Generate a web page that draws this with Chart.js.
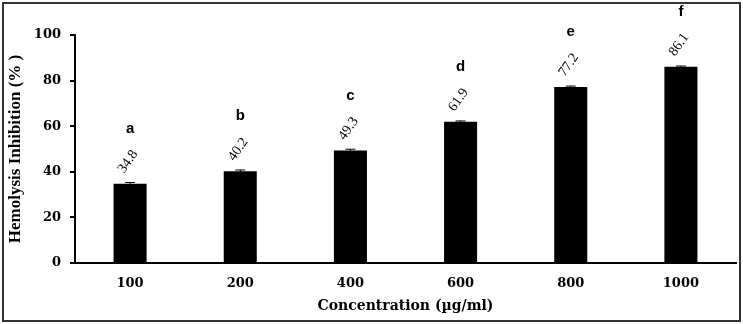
<!DOCTYPE html>
<html>
<head>
<meta charset="utf-8">
<script src="https://cdn.jsdelivr.net/npm/chart.js@4/dist/chart.umd.min.js"></script>
<style>
  html, body { margin: 0; padding: 0; background: #fff; }
  #wrap { width: 743px; height: 324px; position: relative; }
</style>
</head>
<body>
<div id="wrap"><canvas id="chart"></canvas></div>
<script>
// data
const concentrations = ['100', '200', '400', '600', '800', '1000'];
const inhibition = [34.8, 40.2, 49.3, 61.9, 77.2, 86.1];
const errors = [0.5, 0.6, 0.6, 0.4, 0.4, 0.3];
const groupLetters = ['a', 'b', 'c', 'd', 'e', 'f'];
const yTicks = [0, 20, 40, 60, 80, 100];

const serif = '"Liberation Serif", "Times New Roman", serif';
const wideSerif = '"DejaVu Serif", serif';
const sans = '"Liberation Sans", Arial, sans-serif';

// frame around the whole figure
const framePlugin = {
    id: 'frame',
    afterDraw(chart) {
        const ctx = chart.ctx;
        ctx.save();
        ctx.strokeStyle = '#333';
        ctx.lineWidth = 2;
        ctx.strokeRect(3, 3, chart.width - 6, chart.height - 6);
        ctx.restore();
    }
};

// error bars, rotated value labels and group letters
const annotatePlugin = {
    id: 'annotate',
    afterDatasetsDraw(chart) {
        const ctx = chart.ctx;
        const meta = chart.getDatasetMeta(0);
        const y = chart.scales.y;
        ctx.save();
        meta.data.forEach((bar, i) => {
            const v = inhibition[i];
            const yHi = y.getPixelForValue(v + errors[i]);
            const yLo = y.getPixelForValue(v - errors[i]);
            ctx.strokeStyle = '#000';
            ctx.lineWidth = 1;
            ctx.beginPath();
            ctx.moveTo(bar.x, yLo); ctx.lineTo(bar.x, yHi);
            ctx.moveTo(bar.x - 5, yHi); ctx.lineTo(bar.x + 5, yHi);
            ctx.stroke();

            const top = y.getPixelForValue(v);
            // value label
            ctx.save();
            ctx.translate(bar.x - 2, top - 22);
            ctx.rotate(-55 * Math.PI / 180);
            ctx.fillStyle = '#000';
            ctx.font = '14px ' + serif;
            ctx.textAlign = 'center';
            ctx.textBaseline = 'middle';
            ctx.fillText(v.toFixed(1), 0, 0);
            ctx.restore();

            // letter
            ctx.fillStyle = '#000';
            ctx.font = 'bold 15px ' + sans;
            ctx.textAlign = 'center';
            ctx.textBaseline = 'middle';
            ctx.fillText(groupLetters[i], bar.x, top - 55);
        });
        ctx.restore();
    }
};

new Chart(document.getElementById('chart'), {
    type: 'bar',
    data: {
        labels: concentrations,
        datasets: [{
            data: inhibition,
            backgroundColor: '#000',
            borderWidth: 0,
            barPercentage: 0.6,
            categoryPercentage: 0.5
        }]
    },
    options: {
        responsive: true,
        maintainAspectRatio: false,
        animation: false,
        layout: { padding: { top: 35, right: 7, left: 0, bottom: 0 } },
        plugins: {
            legend: { display: false },
            tooltip: { enabled: false }
        },
        scales: {
            x: {
                grid: { display: false },
                border: { display: true, color: '#000', width: 2 },
                ticks: {
                    color: '#000',
                    padding: 5,
                    font: { family: wideSerif, size: 13, weight: 'bold' }
                },
                title: {
                    display: true,
                    text: 'Concentration (µg/ml)',
                    color: '#000',
                    padding: { top: 0, bottom: 9 },
                    font: { family: wideSerif, size: 14, weight: 'bold' }
                },
                afterFit(scale) { scale.height = 61; }
            },
            y: {
                min: 0,
                max: 100,
                afterBuildTicks(scale) {
                    scale.ticks = yTicks.map(v => ({ value: v }));
                },
                grid: {
                    drawOnChartArea: false,
                    drawTicks: true,
                    tickLength: 5,
                    color: '#000',
                    lineWidth: 2
                },
                border: { display: true, color: '#000', width: 2 },
                ticks: {
                    color: '#000',
                    padding: 9,
                    font: { family: wideSerif, size: 13, weight: 'bold' }
                },
                title: {
                    display: true,
                    text: 'Hemolysis Inhibition (% )',
                    color: '#000',
                    padding: { top: 5, bottom: 0 },
                    font: { family: serif, size: 17, weight: 'bold' }
                },
                afterFit(scale) { scale.width = 75; }
            }
        }
    },
    plugins: [framePlugin, annotatePlugin]
});
</script>
</body>
</html>
